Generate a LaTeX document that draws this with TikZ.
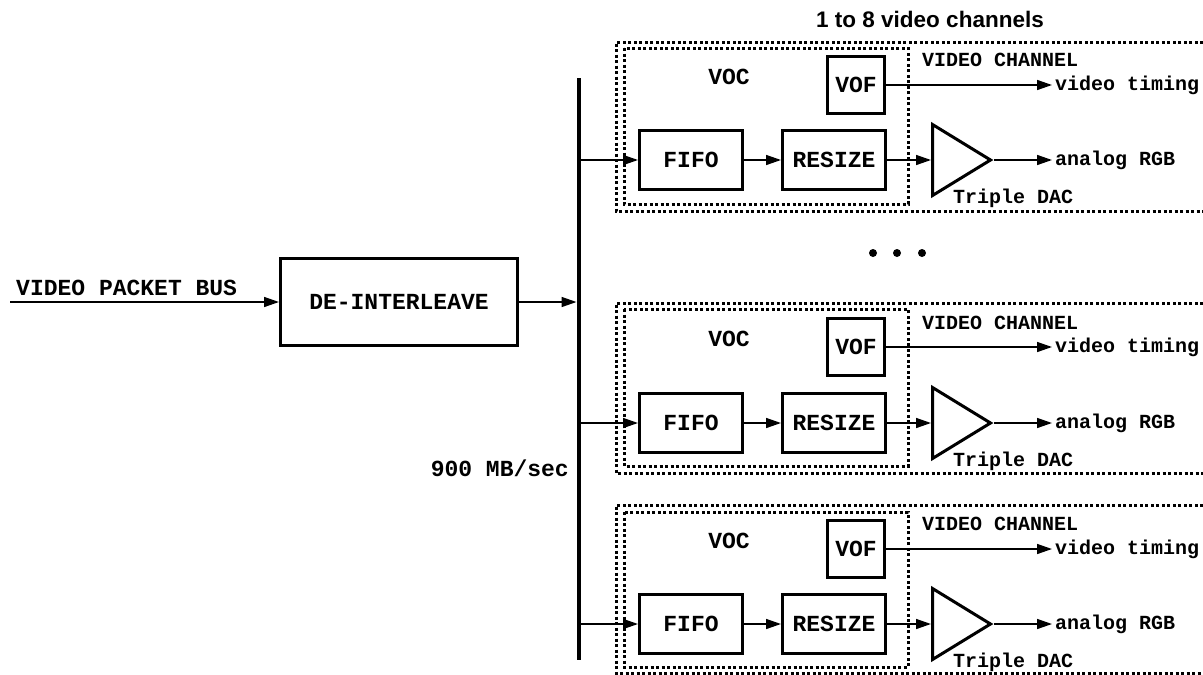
\documentclass[tikz,border=0pt]{standalone}
\usepackage{fontspec}
\setmainfont{Liberation Sans}
\setmonofont{Liberation Mono}
\usetikzlibrary{shapes.geometric, arrows.meta, positioning}

\newcommand{\bigtext}{\ttfamily\bfseries\fontsize{23}{27}\selectfont}
\newcommand{\smalltext}{\ttfamily\bfseries\fontsize{20}{24}\selectfont}

\tikzstyle{block} = [
    rectangle,
    draw=black,
    line width=3pt,
    minimum height=59pt,
    inner sep=0pt,
    font=\bigtext
]
\tikzstyle{fifobox} = [block, minimum width=103pt]
\tikzstyle{vofbox} = [block, minimum width=57pt, minimum height=57pt]
\tikzstyle{dacamp} = [
    isosceles triangle,
    isosceles triangle stretches,
    shape border rotate=0,
    minimum width=71pt,
    minimum height=58pt,
    inner sep=0pt,
    line width=3pt,
    draw=black
]
\tikzstyle{boxtext} = [inner sep=0pt, font=\bigtext]
\tikzstyle{sidetext} = [inner sep=3pt, font=\smalltext, anchor=west]
\tikzstyle{dotbox} = [line width=3pt, dash pattern=on 3pt off 2.5pt]
\tikzstyle{arrow} = [line width=1.5pt, -{Triangle[length=15pt,width=10pt]}]

\begin{document}
\begin{tikzpicture}[x=1pt, y=-1pt]
\useasboundingbox (0,0) rectangle (1203,675);

\node (title) [font=\bfseries\fontsize{22.5}{27}\selectfont, anchor=base] at (930,27)
{1 to 8 video channels};

% input side
\coordinate (pktin) at (10,302);
\node (pktbus) [boxtext, anchor=base west] at (16,295) {VIDEO PACKET BUS};
\node (deint) [block, minimum width=237pt, minimum height=87pt] at (399,302)
{DE-INTERLEAVE};

\coordinate (bustop) at (579,78);
\coordinate (busbot) at (579,660);
\coordinate (busin) at (576.5,302);
\draw [line width=4.5pt] (bustop) -- (busbot);
\node (rate) [boxtext, anchor=base east] at (569,476) {900 MB/sec};

\draw [arrow] (pktin) -- (deint);
\draw [arrow] (deint) -- (busin);

% channel 1
\draw [dotbox] (1203,42) -| (616,211) -- (1203,211);
\draw [dotbox] (624,48) rectangle (908,204);
\coordinate (bus1) at (579,160);
\node (fifo1) [fifobox] at (691,160) {FIFO};
\node (resize1) [fifobox, right=37pt of fifo1] {RESIZE};
\node (vof1) [vofbox] at (856,85) {VOF};
\node (dac1) [dacamp, anchor=lower side] at (931,160) {};
\node (voc1) [boxtext] at (729,77) {VOC};
\node (chan1) [sidetext] at (919,60) {VIDEO CHANNEL};
\node (dacname1) [sidetext] at (950,198) {Triple DAC};
\node (timing1) [sidetext] at (1052,85) {video timing};
\node (rgb1) [sidetext] at (1052,160) {analog RGB};

\draw [arrow] (bus1) -- (fifo1);
\draw [arrow] (fifo1) -- (resize1);
\draw [arrow] (resize1) -- (dac1);
\draw [arrow] (dac1) -- (rgb1);
\draw [arrow] (vof1) -- (timing1);

% more channels
\fill (873,253) circle (4pt);
\fill (897,253) circle (4pt);
\fill (922,253) circle (4pt);

% channel 2
\draw [dotbox] (1203,303) -| (616,473) -- (1203,473);
\draw [dotbox] (624,309) rectangle (908,466);
\coordinate (bus2) at (579,423);
\node (fifo2) [fifobox] at (691,423) {FIFO};
\node (resize2) [fifobox, right=37pt of fifo2] {RESIZE};
\node (vof2) [vofbox] at (856,347) {VOF};
\node (dac2) [dacamp, anchor=lower side] at (931,423) {};
\node (voc2) [boxtext] at (729,339) {VOC};
\node (chan2) [sidetext] at (919,323) {VIDEO CHANNEL};
\node (dacname2) [sidetext] at (950,461) {Triple DAC};
\node (timing2) [sidetext] at (1052,347) {video timing};
\node (rgb2) [sidetext] at (1052,423) {analog RGB};

\draw [arrow] (bus2) -- (fifo2);
\draw [arrow] (fifo2) -- (resize2);
\draw [arrow] (resize2) -- (dac2);
\draw [arrow] (dac2) -- (rgb2);
\draw [arrow] (vof2) -- (timing2);

% channel 3
\draw [dotbox] (1203,505) -| (616,673) -- (1203,673);
\draw [dotbox] (624,512) rectangle (908,667);
\coordinate (bus3) at (579,624);
\node (fifo3) [fifobox] at (691,624) {FIFO};
\node (resize3) [fifobox, right=37pt of fifo3] {RESIZE};
\node (vof3) [vofbox] at (856,549) {VOF};
\node (dac3) [dacamp, anchor=lower side] at (931,624) {};
\node (voc3) [boxtext] at (729,541) {VOC};
\node (chan3) [sidetext] at (919,524) {VIDEO CHANNEL};
\node (dacname3) [sidetext] at (950,662) {Triple DAC};
\node (timing3) [sidetext] at (1052,549) {video timing};
\node (rgb3) [sidetext] at (1052,624) {analog RGB};

\draw [arrow] (bus3) -- (fifo3);
\draw [arrow] (fifo3) -- (resize3);
\draw [arrow] (resize3) -- (dac3);
\draw [arrow] (dac3) -- (rgb3);
\draw [arrow] (vof3) -- (timing3);

\end{tikzpicture}
\end{document}
